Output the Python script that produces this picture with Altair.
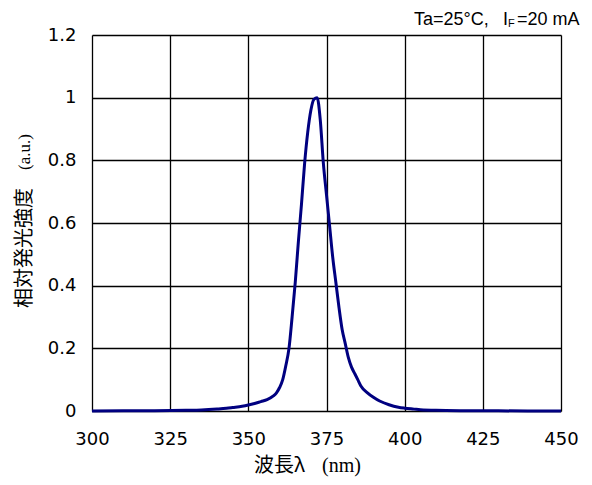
import altair as alt
import pandas as pd

wavelength = [300, 310, 320, 330, 335, 340, 343, 345, 348, 350, 352, 354, 356, 358, 359,
              360, 361, 362, 363, 364, 365, 366, 367, 368, 369, 370, 371, 372, 373, 374,
              375, 376, 377, 378, 379, 380, 381, 382, 383, 384, 385, 386, 388, 390, 392,
              395, 398, 400, 403, 405, 410, 420, 430, 450]
intensity = [0.0, 0.0005, 0.001, 0.002, 0.003, 0.006, 0.0085, 0.011, 0.015, 0.019, 0.024, 0.03,
             0.036, 0.048, 0.058, 0.075, 0.10, 0.145, 0.20, 0.30, 0.41, 0.54, 0.66, 0.79, 0.89,
             0.96, 0.995, 1.0, 0.93, 0.79, 0.69, 0.59, 0.49, 0.41, 0.33, 0.26, 0.215, 0.17, 0.14,
             0.12, 0.10, 0.08, 0.059, 0.044, 0.032, 0.02, 0.012, 0.009, 0.006, 0.004, 0.002,
             0.001, 0.0005, 0.0]

x_ticks = [300, 325, 350, 375, 400, 425, 450]
y_ticks = [0, 0.2, 0.4, 0.6, 0.8, 1.0, 1.2]

df = pd.DataFrame({"wl": wavelength, "v": intensity})

W, H = 469, 376
SANS = "Liberation Sans"
TICK = "DejaVu Sans"
CJK = "Noto Sans CJK JP"
SERIF = "Liberation Serif"

line = alt.Chart(df).mark_line(color="#000080", strokeWidth=3, interpolate="monotone").encode(
    x=alt.X("wl:Q", scale=alt.Scale(domain=[300, 450], nice=False, zero=False),
            axis=alt.Axis(values=x_ticks, title=None, ticks=False, domain=False,
                          gridColor="black", gridWidth=1.3, gridOpacity=1,
                          labelFont=TICK, labelFontSize=18, labelColor="black",
                          labelPadding=19, labelFlush=False)),
    y=alt.Y("v:Q", scale=alt.Scale(domain=[0, 1.2], nice=False),
            axis=alt.Axis(values=y_ticks, title=None, ticks=False, domain=False, format="~g",
                          gridColor="black", gridWidth=1.3, gridOpacity=1,
                          labelFont=TICK, labelFontSize=18, labelColor="black",
                          labelPadding=16, labelFlush=False)),
)

one = alt.Data(values=[{"a": 1}])

def txt(text, x, y, font, size, align="left", angle=0, baseline="alphabetic"):
    return alt.Chart(one).mark_text(text=text, font=font, fontSize=size, align=align,
                                    baseline=baseline, angle=angle, color="black").encode(
        x=alt.value(x), y=alt.value(y))

t1 = txt("Ta=25°C,", 322, -10, SANS, 18, align="left")
t1b = txt("I", 411, -10, SANS, 18, align="left")
t2 = txt("F", 416, -8, SANS, 11, align="left")
t3 = txt("=20 mA", 425, -10, SANS, 18, align="left")

xt1 = txt("波長λ", 162, 431, CJK, 20, align="left", baseline="middle")
xt2 = txt("(nm)", 230, 431, SERIF, 20, align="left", baseline="middle")

yt1 = txt("相対発光強度", -67, 273, CJK, 20, align="left", angle=270, baseline="middle")
yt2 = txt("(a.u.)", -67, 135, SERIF, 17, align="left", angle=270, baseline="middle")

chart = alt.layer(line, t1, t1b, t2, t3, xt1, xt2, yt1, yt2).properties(
    width=W, height=H,
    autosize=alt.AutoSizeParams(type="none"),
    padding={"left": 84, "top": 27, "right": 23, "bottom": 66},
).configure_view(stroke="black", strokeWidth=3).configure(background="white")

chart.save("out.html", embed_options={"renderer": "svg", "actions": False})
